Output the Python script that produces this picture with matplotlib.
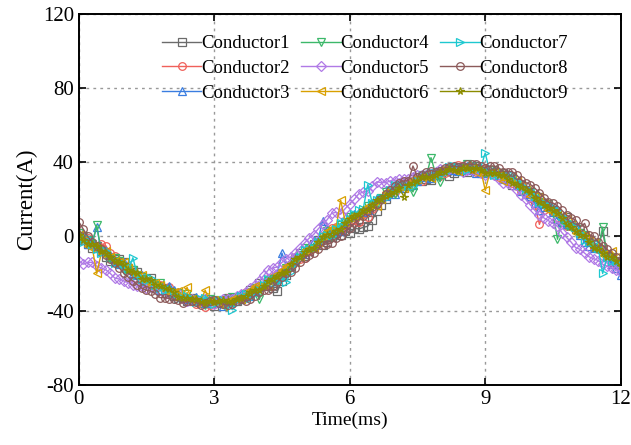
import numpy as np
import matplotlib
matplotlib.use("Agg")
import matplotlib.pyplot as plt

plt.rcParams['font.family'] = ['Liberation Serif', 'DejaVu Serif']
plt.rcParams['axes.unicode_minus'] = False

# time axis in ms, one sample every 0.1 ms
t = np.linspace(0, 12, 121)

c1 = [2, -2, -4, -6, -5, -7, -11, -13, -11.5, -12,
      -14, -17, -18, -19, -23, -24, -22.5, -26, -27, -28,
      -30.5, -32, -30.5, -33, -35, -33, -34.5, -36, -34, -35,
      -37.5, -36, -34.5, -33, -34.5, -35, -34, -32, -29, -28,
      -25, -25, -27, -28, -29.5, -24, -21, -16, -12, -9,
      -10.5, -8, -4, -2, -4.5, -3, -0.5, 2, 1, 3,
      1.6, 4.5, 4, 4.9, 5.5, 9, 13.5, 17, 20, 24,
      26, 28, 26, 27, 31, 32, 30, 31, 30.5, 33,
      35.5, 36, 32.5, 34, 37.5, 36, 35, 37, 38, 35,
      34, 36, 35, 33, 34, 31, 28, 29, 27.5, 24,
      22, 20, 21.5, 18, 16.5, 14, 9.5, 8, 10.5, 6,
      4, 2, -3, -2, -4, -6, 3, -11, -14, -13,
      -14]
c2 = [-1, -2, -1, -4, -5, -4, -5, -9, -10.5, -14,
      -17, -16, -18, -21, -24, -25, -25.5, -27, -26, -28,
      -27.5, -31, -32.5, -33, -34, -35, -36.5, -36, -38, -37,
      -36.5, -35, -34.5, -33, -35.5, -34, -32, -30, -32, -28,
      -30, -27, -23, -22, -20.5, -19, -20, -15, -11, -12,
      -11.5, -8, -6, -3, 0.5, 2, 4.5, 5, 3, 6,
      7.6, 9, 8, 12, 10.5, 15, 17.5, 20, 23, 25,
      24, 27, 29, 29, 30, 31, 30, 33, 33.5, 34,
      32.5, 34, 36.5, 37, 38.5, 38, 37, 36, 35, 36,
      37, 34, 33, 32, 33, 31, 29, 27, 24.5, 23,
      21, 17, 6.5, 14, 16.5, 13, 10.5, 8, 5.5, 6,
      5, 2, 0, -3, -6, -7, -7, -10, -13, -15,
      -17]
c3 = [1, -1, -4, -3, 5, -8, -8, -10, -13.5, -15,
      -14, -17, -20, -21, -21, -24, -24.5, -26, -29, -28,
      -26.5, -29, -30.5, -32, -34, -34, -32.5, -35, -36, -35,
      -34.5, -36, -37.5, -35, -33.5, -32, -31, -32, -32, -29,
      -27, -25, -23, -22, -20, -9, -16, -13, -11, -10,
      -9.5, -5, -2, -2, 8.5, 4, 2.5, 3, 3, 8,
      10.6, 12, 13, 13, 14.5, 18, 20.5, 21, 22, 24,
      23, 26, 28, 28, 28, 30, 33, 32, 31.5, 33,
      35.5, 36, 37.5, 36, 35.5, 37, 38, 36, 34, 34,
      34, 35, 36, 33, 31, 31, 31, 28, 24.5, 23,
      22, 18, 14.5, 16, 16.5, 13, 9.5, 8, 6.5, 6,
      5, 1, -3, -5, -6, -6, -7, -11, -15, -17,
      -21]
c4 = [2, 0, -2, -4, 6, -8, -10, -12, -11.5, -13,
      -18, -17, -18, -21, -22, -23, -25.5, -26, -25, -29,
      -30.5, -31, -30.5, -33, -31, -34, -35.5, -36, -37, -34,
      -34.5, -36, -36.5, -34, -32.5, -33, -34, -31, -30, -28,
      -34, -27, -24, -23, -23.5, -20, -17, -16, -14, -10,
      -6.5, -7, -6, -3, -0.5, 3, -0.5, 2, 6, 8,
      10.6, 11, 11, 13, 16.5, 17, 17.5, 21, 24, 23,
      23, 26, 28, 28, 24, 30, 33, 33, 42.5, 34,
      29.5, 35, 36.5, 37, 35.5, 37, 39, 38, 37, 35,
      34, 35, 36, 34, 31, 31, 31, 28, 24.5, 25,
      24, 22, 18.5, 17, 17.5, 13, -1.5, 9, 5.5, 5,
      4, 2, 1, -3, -6, -7, 5, -10, -11, -14,
      -16]
c5 = [-13, -15, -14, -14, -16, -17, -18, -20, -22.5, -23,
      -24, -25, -26, -27, -27, -28, -27.5, -28, -29, -31,
      -30.5, -31, -30.5, -33, -35, -34, -34.5, -35, -34, -35,
      -36.5, -35, -33.5, -34, -33.5, -32, -31, -30, -28, -26,
      -24, -21, -18, -17, -16.5, -14, -12, -11, -9, -6,
      -3.5, -1, 1, 4, 6.5, 9, 12.5, 13, 12, 15,
      17.6, 20, 23, 24, 24.5, 27, 29.5, 29, 29, 30,
      30, 31, 31, 31, 32, 33, 33, 33, 33.5, 35,
      36.5, 36, 36.5, 37, 36.5, 35, 36, 36, 36, 34,
      33, 34, 33, 31, 29, 29, 28, 25, 22.5, 20,
      17, 14, 11.5, 10, 8.5, 7, 5.5, 2, -0.5, -3,
      -6, -7, -9, -11, -12, -13, -15, -16, -17, -18,
      -19]
c6 = [1, -2, -5, -6, -20, -9, -8, -11, -13.5, -14,
      -14, -17, -20, -21, -21, -24, -26.5, -25, -26, -29,
      -30.5, -30, -29.5, -32, -27.5, -34, -35.5, -35, -29, -35,
      -34.5, -36, -37.5, -35, -33.5, -33, -34, -31, -29, -27,
      -27, -26, -27, -24, -20.5, -18, -16, -15, -14, -11,
      -7.5, -7, -7, -3, 0.5, 3, 4.5, 5, 19.5, 8,
      10.6, 11, 11, 14, 16.5, 17, 16.5, 20, 24, 25,
      26, 27, 26, 28, 31, 31, 32, 33, 31.5, 34,
      35.5, 37, 37.5, 36, 35.5, 37, 38, 37, 35, 36,
      25, 34, 35, 33, 30, 31, 32, 30, 27.5, 25,
      22, 22, 21.5, 18, 14.5, 13, 12.5, 11, 9.5, 6,
      2, 1, 0, -2, -3, -6, -10, -9, -8, -11,
      -13]
c7 = [-3, -3, -1, -4, -7, -9, -8, -11, -14.5, -15,
      -15, -18, -11.5, -21, -23, -24, -22.5, -26, -28, -29,
      -28.5, -31, -33.5, -33, -32, -34, -35.5, -34, -33, -36,
      -36.5, -35, -34.5, -37, -39.5, -36, -32, -31, -33, -31,
      -29, -26, -23, -25, -24.5, -23, -24.5, -19, -15, -11,
      -7.5, -7, -6, -3, 0.5, 1, 0.5, 4, 7, 8,
      9.6, 12, 14, 15, 28, 18, 19.5, 21, 21, 25,
      28, 28, 28, 27, 27, 30, 32, 33, 34.5, 34,
      33.5, 35, 37.5, 38, 37.5, 37, 36, 37, 38, 37,
      45, 35, 33, 33, 34, 33, 33, 30, 27.5, 26,
      25, 22, 18.5, 18, 17.5, 16, 14.5, 11, 8.5, 7,
      5, 2, -2, -3, -3, -6, -20, -11, -13, -13,
      -14]
c8 = [8, 4, 0, -3, -5, -7, -10, -12, -14.5, -17,
      -20, -22, -24, -26, -28, -29, -29.5, -31, -33, -33,
      -33.5, -34, -34.5, -36, -35, -35, -35.5, -37, -36, -35,
      -34.5, -36, -36.5, -37, -36.5, -35, -34, -35, -34, -32,
      -30, -29, -29, -27, -24.5, -22, -20, -19, -17, -14,
      -11.5, -10, -9, -7, -4.5, -4, -3.5, -1, 0, 3,
      4.6, 7, 9, 11, 13.5, 16, 17.5, 20, 23, 25,
      27, 29, 30, 30, 38, 32, 33, 35, 35.5, 35,
      35.5, 37, 37.5, 38, 37.5, 38, 39, 39, 39, 38,
      37, 38, 38, 37, 35, 35, 35, 33, 30.5, 29,
      28, 26, 23.5, 21, 18.5, 18, 16.5, 14, 11.5, 10,
      9, 5, 7, 1, 0, -3, -5, -7, -9, -11,
      -13]
c9 = [1, -2, -4, -4, -5, -8, -9, -11, -13.5, -14,
      -15, -18, -19, -20, -23, -23, -23.5, -26, -27, -28,
      -28.5, -30, -32.5, -33, -33, -34, -33.5, -35, -36, -35,
      -35.5, -35, -34.5, -35, -35.5, -34, -33, -32, -30, -29,
      -29, -27, -24, -23, -21.5, -20, -19, -15, -12, -11,
      -8.5, -7, -6, -3, -0.5, 1, 1.5, 3, 4, 7,
      9.6, 11, 12, 14, 14.5, 17, 19.5, 20, 22, 23,
      24, 26, 21.5, 28, 29, 30, 32, 32, 31.5, 33,
      34.5, 35, 36.5, 36, 35.5, 37, 37, 36, 37, 36,
      34, 34, 34, 33, 33, 31, 29, 28, 26.5, 25,
      24, 21, 18.5, 17, 15.5, 14, 12.5, 10, 6.5, 5,
      3, 1, 0, -3, -6, -7, -9, -11, -11, -13,
      -16]

series = [c1, c2, c3, c4, c5, c6, c7, c8, c9]
names = ["Conductor%d" % (i + 1) for i in range(9)]
colors = ["#6b6b6b", "#f0605a", "#3a7de0", "#3cb86a", "#b07ae6",
          "#d9a000", "#1ec8d0", "#8c5a5a", "#8c8c00"]
markers = ["s", "o", "^", "v", "D", "<", ">", "o", "*"]

fig = plt.figure(figsize=(6.31, 4.45), dpi=100)
ax = fig.add_axes([0.1247, 0.1355, 0.859, 0.833])

for y, name, col, mk in zip(series, names, colors, markers):
    ms = 5.5 if mk != "D" else 5
    ax.plot(t, y, color=col, lw=1, marker=mk, ms=ms, mfc="none",
            mec=col, mew=0.9, label=name)

ax.set_xlim(0, 12)
ax.set_ylim(-80, 120)
ax.set_xticks([0, 3, 6, 9, 12])
ax.set_yticks([-80, -40, 0, 40, 80, 120])
ax.grid(True, ls=(0, (2, 3)), color="#999999", lw=1)
ax.tick_params(direction="in", length=5, width=1.2, labelsize=15,
               top=True, right=True)
for s in ax.spines.values():
    s.set_linewidth(1.4)

ax.set_xlabel("Time(ms)", fontsize=14, labelpad=2)
ax.set_ylabel("Current(A)", fontsize=16.5, labelpad=4)

ax.legend(ncol=3, loc="upper left", bbox_to_anchor=(0.14, 0.963),
          frameon=False, fontsize=13.5, handlelength=2.1, handletextpad=0.0,
          columnspacing=0.6, labelspacing=0.4, borderaxespad=0)

fig.savefig("out.png", dpi=100)
